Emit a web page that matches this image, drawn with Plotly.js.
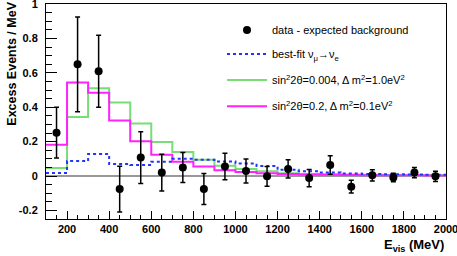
<!DOCTYPE html>
<html><head><meta charset="utf-8">
<script src="https://cdn.plot.ly/plotly-3.0.1.min.js"></script>
<style>html,body{margin:0;padding:0;background:#fff}#chart{width:457px;height:256px}</style>
</head><body><div id="chart"></div>
<script>
// Bin edges (MeV) and bin centers
const binEdges = [100,200,300,400,500,600,700,800,900,1000,1100,1200,1300,1400,1500,1600,1700,1800,1900,2000];
const binCenters = [150,250,350,450,550,650,750,850,950,1050,1150,1250,1350,1450,1550,1650,1750,1850,1950];
// data - expected background
const dataY   = [0.252,0.649,0.609,-0.076,0.107,0.020,0.049,-0.076,0.055,0.029,-0.002,0.041,-0.012,0.064,-0.062,0.004,-0.009,0.020,-0.002];
const dataErr = [0.148,0.276,0.210,0.133,0.150,0.107,0.087,0.090,0.077,0.070,0.057,0.053,0.050,0.054,0.037,0.033,0.025,0.030,0.030];
// best-fit numu->nue
const bestFit = [0.018,0.087,0.128,0.070,0.064,0.083,0.101,0.095,0.085,0.072,0.058,0.036,0.027,0.020,0.014,0.011,0.010,0.009,0.007];
// sin^2 2theta = 0.004, dm^2 = 1.0 eV^2
const green   = [0.047,0.343,0.510,0.428,0.305,0.198,0.140,0.095,0.060,0.040,0.027,0.016,0.012,0.010,0.008,0.007,0.006,0.005,0.004];
// sin^2 2theta = 0.2, dm^2 = 0.1 eV^2
const magenta = [0.182,0.543,0.484,0.322,0.202,0.124,0.083,0.055,0.033,0.023,0.016,0.011,0.009,0.007,0.006,0.005,0.004,0.004,0.003];
// axis ticks
const xTickVals = [200,400,600,800,1000,1200,1400,1600,1800,2000];
const yTickVals = [-0.2,0,0.2,0.4,0.6,0.8,1];
const yTickText = ['-0.2','0','0.2','0.4','0.6','0.8','1'];

const labels = {
  data: 'data - expected background',
  best: 'best-fit ν<sub>μ</sub>→ν<sub>e</sub>',
  green: 'sin<sup>2</sup>2θ=0.004, Δ m<sup>2</sup>=1.0eV<sup>2</sup>',
  magenta: 'sin<sup>2</sup>2θ=0.2, Δ m<sup>2</sup>=0.1eV<sup>2</sup>'
};

function stepY(v){ return v.concat([v[v.length-1]]); }

const traces = [
  {x: binEdges, y: stepY(green), type:'scatter', mode:'lines', line:{shape:'hv', color:'#77dd77', width:2}, name: labels.green, legend:'legend3'},
  {x: binEdges, y: stepY(magenta), type:'scatter', mode:'lines', line:{shape:'hv', color:'#ff22ff', width:2}, name: labels.magenta, legend:'legend4'},
  {x: binEdges, y: stepY(bestFit), type:'scatter', mode:'lines', line:{shape:'hv', color:'#2233ff', width:2, dash:'dot'}, name: labels.best, legend:'legend2'},
  {x: binCenters, y: dataY, type:'scatter', mode:'markers', marker:{color:'#000', size:8},
   error_y:{type:'data', array: dataErr, visible:true, color:'#000', thickness:1.5, width:2.5},
   name: labels.data, legend:'legend'}
];

const F = 'Liberation Sans, Arial, Helvetica, sans-serif';
function leg(y){
  return {x:0.44, y:y, xanchor:'left', yanchor:'middle', bgcolor:'rgba(0,0,0,0)', borderwidth:0,
          font:{family:F, size:11, color:'#000'}, itemwidth:40};
}
const layout = {
  width: 457, height: 256,
  margin: {l:45.5, r:11, t:4, b:37.3},
  paper_bgcolor:'#fff', plot_bgcolor:'#fff',
  font: {family: F, color:'#000', size: 11},
  showlegend: true,
  legend: leg(0.879), legend2: leg(0.767), legend3: leg(0.646), legend4: leg(0.525),
  xaxis: {range:[100,2000], tickmode:'array', tickvals:xTickVals, ticks:'inside', ticklen:8, tickwidth:1, tickcolor:'#000',
          showline:true, linecolor:'#000', linewidth:1, mirror:true, showgrid:false, zeroline:false,
          ticklabeloverflow:'allow',
          tickfont:{family:F, size:11, weight:'bold'},
          minor:{ticks:'inside', dtick:50, tick0:0, ticklen:4, tickcolor:'#000', showgrid:false}},
  yaxis: {range:[-0.25,1], tickmode:'array', tickvals:yTickVals, ticktext:yTickText, ticks:'inside', ticklen:11, tickwidth:1, tickcolor:'#000',
          showline:true, linecolor:'#000', linewidth:1, mirror:true, showgrid:false,
          zeroline:true, zerolinecolor:'#999', zerolinewidth:2,
          ticklabelstandoff:5, ticklabeloverflow:'allow',
          tickfont:{family:F, size:11, weight:'bold'},
          minor:{ticks:'inside', dtick:0.05, tick0:0, ticklen:6, tickcolor:'#000', showgrid:false}},
  annotations: [
    {text:'<b>Excess Events / MeV</b>', xref:'paper', yref:'paper', x:-0.085, y:1.02, xanchor:'center', yanchor:'top',
     textangle:-90, showarrow:false, font:{family:F, size:12.5, color:'#000'}},
    {text:'<b>E<sub>vis</sub> (MeV)</b>', xref:'paper', yref:'paper', x:1, y:-0.075, xanchor:'right', yanchor:'top',
     showarrow:false, font:{family:F, size:13, color:'#000'}}
  ]
};
Plotly.newPlot('chart', traces, layout, {staticPlot:true, displayModeBar:false});
</script></body></html>
